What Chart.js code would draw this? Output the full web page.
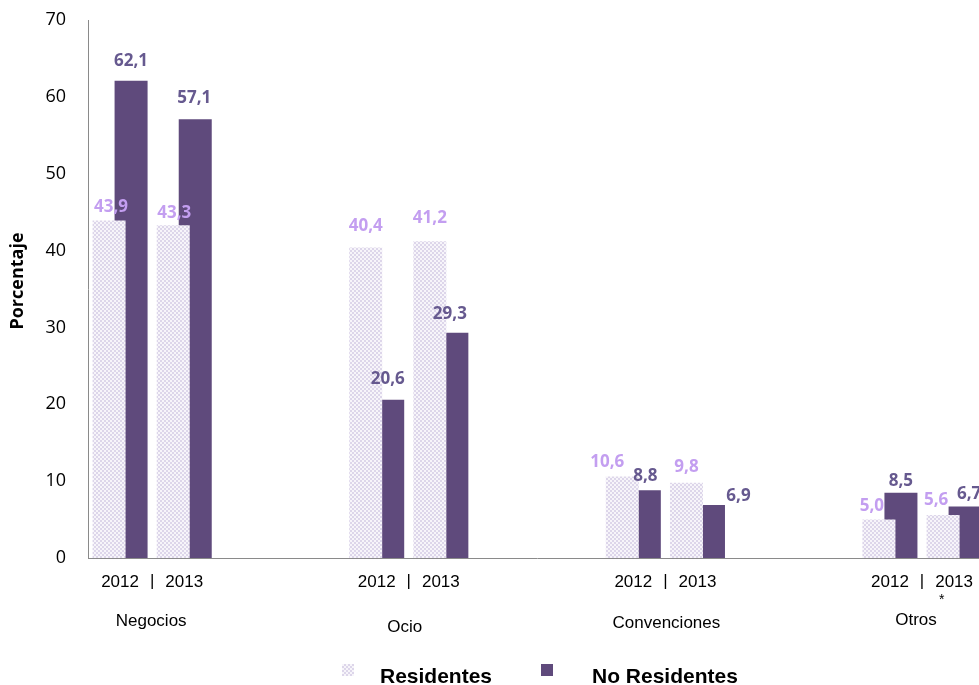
<!DOCTYPE html>
<html lang="es">
<head>
<meta charset="utf-8">
<title>Porcentaje por motivo de viaje</title>
<script src="https://cdn.jsdelivr.net/npm/chart.js@4.4.1/dist/chart.umd.min.js"></script>
<style>
  html, body { margin: 0; padding: 0; background: #fff; overflow: hidden; }
  #wrap { width: 979px; height: 685px; overflow: hidden; }
</style>
</head>
<body>
<div id="wrap"><canvas id="chart" width="987" height="685"></canvas></div>
<script>
const groups = ['Negocios', 'Ocio', 'Convenciones', 'Otros'];
const years = ['2012', '2013'];
const seriesNames = ['Residentes', 'No Residentes'];
const residentes = [43.9, 43.3, 40.4, 41.2, 10.6, 9.8, 5.0, 5.6];
const noResidentes = [62.1, 57.1, 20.6, 29.3, 8.8, 6.9, 8.5, 6.7];
const yTicks = [0, 10, 20, 30, 40, 50, 60, 70];
const footnoted = ['Otros'];

// the original labels were placed by hand, so keep a [dx, dy] nudge per bar
// (dx from the bar centre, dy from the bar top to the middle of the text)
const resLabelShift = [[2, -13], [1, -12], [0, -21], [0, -23], [-15, -14], [0, -16], [-7, -13], [-7, -15]];
const nrLabelShift = [[0, -20], [-1, -21], [0, -21], [-2, -19], [1, -14], [30, -9], [0, -12], [4, -12]];
// same idea for the group names under the axis
const groupShift = [[-1, -1], [-4, 5], [1, 1], [-6, -2]];

const NR_COLOR = '#5f4a7c';
const RES_LABEL = '#c39ef0';
const NR_LABEL = '#66598f';
const AXIS_GREY = '#8a8a8a';
const SANS = '"Liberation Sans", Arial, sans-serif';
const CAL = '"Open Sans", sans-serif';

// two year slots per group, then two empty slots as a gap (not after the last group)
const slotLabels = [];
const slotIndex = [];
groups.forEach((g, gi) => {
  years.forEach((y, yi) => {
    slotLabels.push(y);
    slotIndex.push(gi * years.length + yi);
  });
  if (gi < groups.length - 1) {
    slotLabels.push('', '');
    slotIndex.push(-1, -1);
  }
});
const toSlots = (values) => slotIndex.map((i) => (i < 0 ? null : values[i]));

const canvas = document.getElementById('chart');
const ctx = canvas.getContext('2d');

// light lavender checker used for the Residentes bars
const makeHatch = function makeHatchPattern() {
  const tile = document.createElement('canvas');
  tile.width = 4;
  tile.height = 4;
  const t = tile.getContext('2d');
  t.fillStyle = '#f7f5fa';
  t.fillRect(0, 0, 4, 4);
  t.fillStyle = '#ddd6ea';
  t.fillRect(0, 0, 2, 2);
  t.fillRect(2, 2, 2, 2);
  return ctx.createPattern(tile, 'repeat');
};
const hatch = makeHatch();

const fmt = (v) => v.toFixed(1).replace('.', ',');

const decorations = {
  id: 'decorations',
  afterDatasetsDraw(chart) {
    const c = chart.ctx;
    c.save();
    c.font = 'bold 17px ' + CAL;
    c.textAlign = 'center';
    c.textBaseline = 'middle';
    chart.data.datasets.forEach((ds, di) => {
      const meta = chart.getDatasetMeta(di);
      meta.data.forEach((bar, s) => {
        const vi = slotIndex[s];
        if (vi < 0) return;
        const [dx, dy] = ds.labelShift[vi];
        c.fillStyle = ds.labelColor;
        c.fillText(fmt(ds.data[s]), bar.x + dx, bar.y + dy);
      });
    });
    c.restore();
  },
  afterDraw(chart) {
    const c = chart.ctx;
    const x = chart.scales.x;
    c.save();
    c.fillStyle = '#000';
    c.textAlign = 'center';
    c.textBaseline = 'middle';
    c.font = '17px ' + SANS;

    // "|" between the years and the group name under each pair
    groups.forEach((g, gi) => {
      const first = slotIndex.indexOf(gi * years.length);
      const mid = (x.getPixelForTick(first) + x.getPixelForTick(first + 1)) / 2;
      const [dx, dy] = groupShift[gi];
      c.fillText('|', mid, 581);
      c.fillText(g, mid + dx, 622 + dy);
      if (footnoted.includes(g)) {
        const w = c.measureText(g).width;
        c.font = '14px ' + SANS;
        c.fillText('*', mid + dx + w / 2 + 5, 600);
        c.font = '17px ' + SANS;
      }
    });

    // y axis title
    c.save();
    c.translate(18, 281);
    c.rotate(-Math.PI / 2);
    c.font = 'bold 18px ' + CAL;
    c.fillText('Porcentaje', 0, 0);
    c.restore();

    // legend
    const swatches = [[342, hatch, 380], [541, NR_COLOR, 592]];
    c.textAlign = 'left';
    c.font = 'bold 21px ' + SANS;
    chart.data.datasets.forEach((ds, di) => {
      const [sx, fill, tx] = swatches[di];
      c.fillStyle = fill;
      c.fillRect(sx, 664, 12, 12);
      c.fillStyle = '#000';
      c.fillText(ds.label, tx, 677);
    });
    c.restore();
  },
};

new Chart(canvas, {
  type: 'bar',
  plugins: [decorations],
  data: {
    labels: slotLabels,
    datasets: [
      {
        label: seriesNames[0],
        data: toSlots(residentes),
        backgroundColor: hatch,
        labelColor: RES_LABEL,
        labelShift: resLabelShift,
      },
      {
        label: seriesNames[1],
        data: toSlots(noResidentes),
        backgroundColor: NR_COLOR,
        labelColor: NR_LABEL,
        labelShift: nrLabelShift,
      },
    ],
  },
  options: {
    responsive: false,
    animation: false,
    devicePixelRatio: 1,
    // barPercentage > 1 makes the second bar overlap the first, as in the original
    categoryPercentage: 0.686,
    barPercentage: 1.5,
    layout: { padding: { top: 20, right: 0, left: 0, bottom: 0 } },
    plugins: {
      legend: { display: false },
      tooltip: { enabled: false },
    },
    scales: {
      x: {
        grid: { display: false, drawTicks: false },
        border: { color: AXIS_GREY, width: 1 },
        ticks: {
          autoSkip: false,
          maxRotation: 0,
          padding: 14,
          color: '#000',
          font: { family: SANS, size: 17 },
        },
        afterFit: (scale) => { scale.height = 127; },
      },
      y: {
        min: 0,
        max: 70,
        grid: { display: false, drawTicks: false },
        border: { color: AXIS_GREY, width: 1 },
        ticks: {
          padding: 22,
          color: '#000',
          font: { family: CAL, size: 18 },
        },
        afterBuildTicks: (scale) => { scale.ticks = yTicks.map((v) => ({ value: v })); },
        afterFit: (scale) => {
          scale.width = 88;
          // let the layout padding alone decide where the plot starts
          scale.paddingTop = 0;
          scale.paddingBottom = 0;
        },
      },
    },
  },
});
</script>
</body>
</html>
